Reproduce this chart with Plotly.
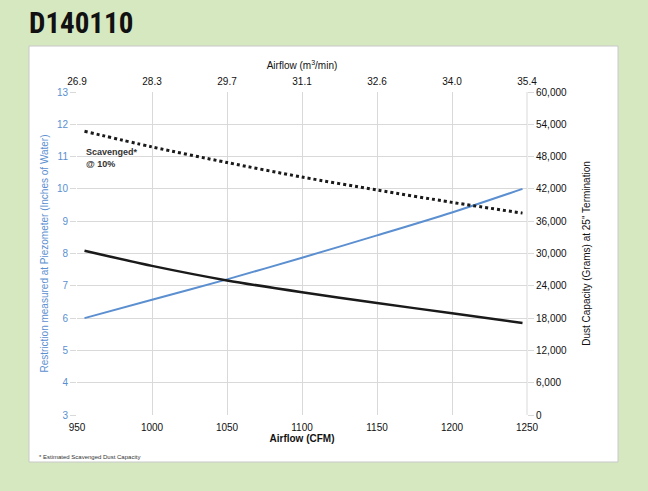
import plotly.graph_objects as go

# ---- data ----
airflow_cfm = [955, 1000, 1050, 1100, 1150, 1200, 1247]
restriction_in_h2o = [6.0, 6.57, 7.2, 7.87, 8.56, 9.27, 10.0]
dust_capacity_g = [30500, 27700, 25000, 22800, 20800, 18900, 17100]
scavenged_capacity_g = [52700, 49800, 46900, 44200, 41800, 39500, 37500]

cfm_ticks = [950, 1000, 1050, 1100, 1150, 1200, 1250]
m3min_labels = ["26.9", "28.3", "29.7", "31.1", "32.6", "34.0", "35.4"]
left_ticks = list(range(3, 14))
right_ticks = list(range(0, 60001, 6000))

GREEN = "#d5e8c0"
BLUE = "#5b8fd0"
GRID = "#d9d9d9"
FONT = "Liberation Sans, Arial, sans-serif"

# plot-area pixel geometry
L, R, T, B = 77, 527, 92, 415
W, H = 648, 491
def px(x):
    return (x - L) / (R - L)
def py(y):
    return (B - y) / (B - T)

fig = go.Figure()
fig.add_trace(go.Scatter(x=airflow_cfm, y=restriction_in_h2o, mode="lines",
                         line=dict(color=BLUE, width=2, shape="spline", smoothing=0.8),
                         yaxis="y", xaxis="x", hoverinfo="skip"))
fig.add_trace(go.Scatter(x=airflow_cfm, y=dust_capacity_g, mode="lines",
                         line=dict(color="#1a1a1a", width=2.5, shape="spline", smoothing=0.8),
                         yaxis="y2", xaxis="x", hoverinfo="skip"))
fig.add_trace(go.Scatter(x=airflow_cfm, y=scavenged_capacity_g, mode="lines",
                         line=dict(color="#1a1a1a", width=3, dash="dot", shape="spline", smoothing=0.8),
                         yaxis="y2", xaxis="x", hoverinfo="skip"))
# invisible trace to anchor the top axis
fig.add_trace(go.Scatter(x=cfm_ticks, y=[None]*len(cfm_ticks), mode="lines",
                         xaxis="x2", yaxis="y", showlegend=False, hoverinfo="skip"))

tickfont = dict(family=FONT, size=10, color="#111111")

fig.update_layout(
    width=W, height=H,
    margin=dict(l=L, r=W - R, t=T, b=H - B),
    paper_bgcolor=GREEN,
    plot_bgcolor="white",
    showlegend=False,
    xaxis=dict(range=[950, 1250], tickmode="array", tickvals=cfm_ticks,
               showgrid=True, gridcolor=GRID, gridwidth=1, zeroline=False,
               showline=False, ticks="outside", ticklen=3, tickcolor="rgba(0,0,0,0)",
               tickfont=tickfont,
               title=dict(text="<b>Airflow (CFM)</b>", font=dict(family=FONT, size=10, color="#111"),
                          standoff=2)),
    xaxis2=dict(range=[950, 1250], overlaying="x", side="top", anchor="y",
                tickmode="array", tickvals=cfm_ticks, ticktext=m3min_labels,
                showgrid=False, zeroline=False, showline=False,
                ticks="outside", ticklen=2, tickcolor="rgba(0,0,0,0)",
                tickfont=tickfont,
                title=dict(text="Airflow (m<sup>3</sup>/min)", font=dict(family=FONT, size=10, color="#111"),
                           standoff=4)),
    yaxis=dict(range=[3, 13], tickmode="array", tickvals=left_ticks,
               showgrid=True, gridcolor=GRID, gridwidth=1, zeroline=False,
               showline=False, ticks="outside", ticklen=6, tickcolor=GRID,
               tickfont=dict(family=FONT, size=10, color=BLUE),
               title=dict(text="Restriction measured at Piezometer (Inches of Water)",
                          font=dict(family=FONT, size=10, color=BLUE), standoff=6)),
    yaxis2=dict(range=[0, 60000], overlaying="y", side="right", anchor="x",
                tickmode="array", tickvals=right_ticks, tickformat=",",
                showgrid=False, zeroline=False, showline=False,
                ticks="outside", ticklen=6, tickcolor=GRID,
                tickfont=tickfont,
                title=dict(text="Dust Capacity (Grams) at 25\" Termination",
                           font=dict(family=FONT, size=10, color="#111"), standoff=16)),
    shapes=[
        dict(type="rect", xref="paper", yref="paper", layer="below",
             x0=px(29), x1=px(618), y0=py(462), y1=py(46),
             fillcolor="white", line=dict(color="#c8c8c8", width=1)),
        dict(type="line", xref="paper", yref="paper", layer="below",
             x0=1, x1=1, y0=0, y1=1, line=dict(color=GRID, width=1)),
    ],
    annotations=[
        dict(text="<b>D140110</b>", xref="paper", yref="paper", x=px(27), y=py(23),
             xanchor="left", yanchor="middle", showarrow=False,
             font=dict(family="Liberation Sans Narrow, Roboto Condensed, DejaVu Sans Condensed, Arial Narrow, Roboto, sans-serif",
                       size=29, color="#111")),
        dict(text="<b>Scavenged*<br>@ 10%</b>", xref="paper", yref="paper", x=px(84), y=py(158),
             xanchor="left", yanchor="middle", align="left", showarrow=False,
             font=dict(family=FONT, size=9, color="#333")),
        dict(text="* Estimated Scavenged Dust Capacity", xref="paper", yref="paper",
             x=px(37), y=py(457), xanchor="left", yanchor="middle", showarrow=False,
             font=dict(family=FONT, size=6, color="#333")),
    ],
)

fig.write_html("out.html", config={"displayModeBar": False},
               post_script="document.body.style.margin='0';document.body.style.overflow='hidden';")
